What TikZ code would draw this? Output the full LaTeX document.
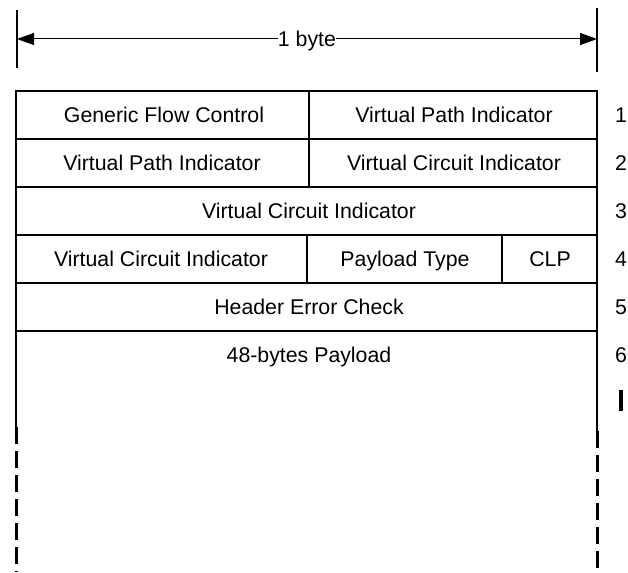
\documentclass[tikz,border=0pt]{standalone}
\usepackage{fontspec}
\setmainfont{Liberation Sans}
\usetikzlibrary{arrows.meta}

\begin{document}
\begin{tikzpicture}[x=1pt,y=-1pt,
  every node/.style={font=\fontsize{21.3}{25}\selectfont, inner sep=0pt,
    text height=15pt, text depth=0pt},
  cellline/.style={line width=1.8pt},
  dimline/.style={line width=1pt},
  tickline/.style={line width=1.2pt},
  dashline/.style={line width=3pt, dash pattern=on 17pt off 7pt},
  dimtip/.style={-{Triangle[length=17pt,width=12pt]}},
  rownum/.style={anchor=center}]
\useasboundingbox (0,0) rectangle (628,572);

% width marker: "1 byte"
\coordinate (tl) at (17,10);
\coordinate (tlb) at (17,68);
\coordinate (tr) at (597,8);
\coordinate (trb) at (597,72);
\draw[tickline] (tl) -- (tlb);
\draw[tickline] (tr) -- (trb);
\coordinate (al) at (17,39);
\coordinate (ar) at (597,39);
\node (byte) at (307,39) {1 byte};
\draw[dimline,dimtip] (byte.west) -- (al);
\draw[dimline,dimtip] (byte.east) -- (ar);

% header rows
\draw[cellline] (16,91) rectangle (597,331);
\draw[cellline] (16,139) -- (597,139);
\draw[cellline] (16,187) -- (597,187);
\draw[cellline] (16,235) -- (597,235);
\draw[cellline] (16,283) -- (597,283);
\draw[cellline] (309,91) -- (309,187);
\draw[cellline] (307,235) -- (307,283);
\draw[cellline] (502,235) -- (502,283);

\node (gfc)  at (164,115) {Generic Flow Control};
\node (vpi1) at (454,115) {Virtual Path Indicator};
\node (vpi2) at (162,163) {Virtual Path Indicator};
\node (vci2) at (454,163) {Virtual Circuit Indicator};
\node (vci3) at (309,211) {Virtual Circuit Indicator};
\node (vci4) at (161,259) {Virtual Circuit Indicator};
\node (pt)   at (405,259) {Payload Type};
\node (clp)  at (550,259) {CLP};
\node (hec)  at (309,307) {Header Error Check};
\node (pay)  at (309,355) {48-bytes Payload};

% row numbers
\node[rownum] (n1) at (621,115) {1};
\node[rownum] (n2) at (621,163) {2};
\node[rownum] (n3) at (621,211) {3};
\node[rownum] (n4) at (621,259) {4};
\node[rownum] (n5) at (621,307) {5};
\node[rownum] (n6) at (621,355) {6};
\draw[line width=3.5pt] (621,390) -- (621,411);

% payload continues downward
\draw[cellline] (16,331) -- (16,427);
\draw[cellline] (597,331) -- (597,431);
\draw[dashline] (16,427) -- (16,572);
\draw[dashline] (597,431) -- (597,572);
\end{tikzpicture}
\end{document}
